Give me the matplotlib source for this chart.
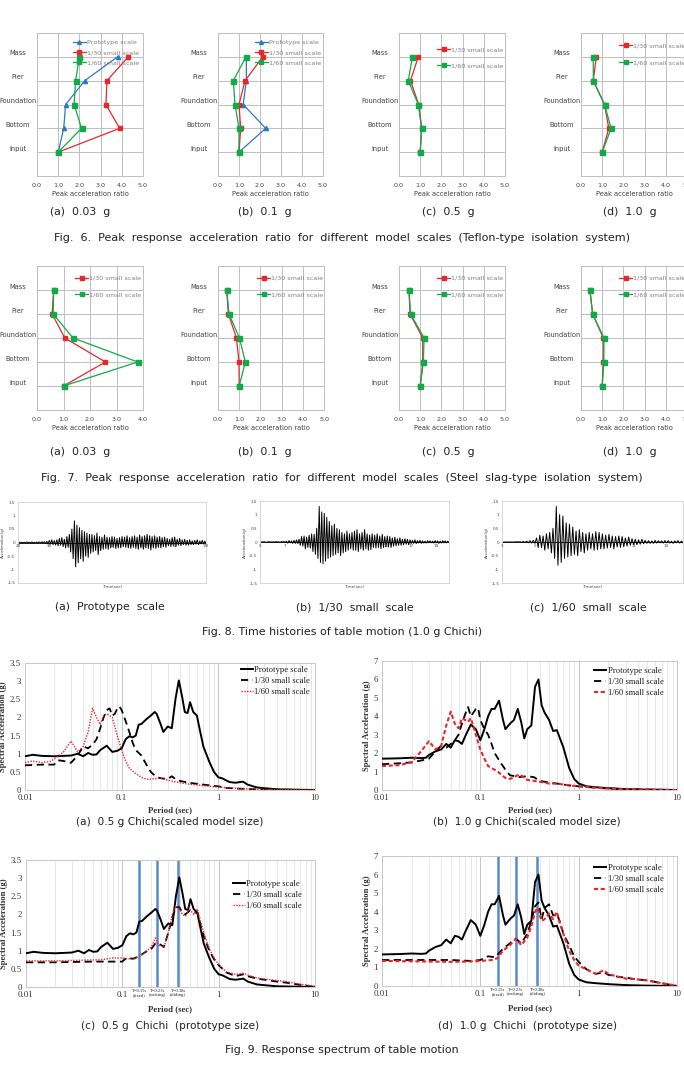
import numpy as np
import matplotlib
matplotlib.use('Agg')
import matplotlib.pyplot as plt
from matplotlib.ticker import LogLocator, NullFormatter
from matplotlib.transforms import blended_transform_factory

# ---------------- data ----------------
levels = ['Input', 'Bottom', 'Foundation', 'Pier', 'Mass']

# Fig. 6 (Teflon-type) peak acceleration ratios, ordered Input..Mass
f6a_proto = [1.0, 1.26, 1.35, 2.25, 3.8]
f6a_s30 = [1.0, 3.9, 3.25, 3.3, 4.3]
f6a_s60 = [1.0, 2.1, 1.75, 1.82, 2.0]
f6b_proto = [1.0, 2.27, 1.2, 1.35, 1.35]
f6b_s30 = [1.0, 1.08, 1.0, 1.29, 2.13]
f6b_s60 = [1.0, 1.0, 0.81, 0.73, 1.33]
f6c_s30 = [1.0, 1.07, 0.93, 0.54, 0.91]
f6c_s60 = [1.0, 1.07, 0.91, 0.44, 0.63]
f6d_s30 = [1.0, 1.31, 1.11, 0.58, 0.72]
f6d_s60 = [1.0, 1.42, 1.11, 0.58, 0.58]

# Fig. 7 (Steel slag-type)
f7a_s30 = [1.0, 2.58, 1.05, 0.57, 0.63]
f7a_s60 = [1.0, 3.8, 1.36, 0.61, 0.63]
f7b_s30 = [1.0, 0.99, 0.87, 0.49, 0.41]
f7b_s60 = [1.0, 1.29, 1.01, 0.52, 0.41]
f7c_s30 = [1.0, 1.12, 1.12, 0.52, 0.47]
f7c_s60 = [1.0, 1.15, 1.18, 0.55, 0.47]
f7d_s30 = [1.0, 1.05, 1.05, 0.55, 0.42]
f7d_s60 = [1.0, 1.08, 1.08, 0.55, 0.42]

# Fig. 8 time histories (acceleration, g)
th_a_range = (20.4, 80.0)
th_a = [0.01, -0.01, 0.01, -0.01, 0.01, -0.01, 0.02, -0.01, 0.01, -0.02,
        0.02, -0.02, 0.01, -0.02, 0.02, -0.01, 0.02, -0.02, 0.03, -0.02,
        0.03, -0.03, 0.04, -0.05, 0.08, -0.06, 0.1, -0.08, 0.07, -0.09,
        0.1, -0.12, 0.15, -0.1, 0.18, -0.15, 0.12, -0.2, 0.22, -0.18,
        0.3, -0.35, 0.5, -0.6, 0.8, -0.9, 0.65, -0.75, 0.55, -0.6,
        0.45, -0.7, 0.4, -0.5, 0.35, -0.55, 0.3, -0.4, 0.3, -0.35,
        0.25, -0.3, 0.35, -0.45, 0.22, -0.3, 0.2, -0.25, 0.28, -0.22,
        0.2, -0.25, 0.18, -0.2, 0.22, -0.18, 0.2, -0.22, 0.15, -0.2,
        0.18, -0.2, 0.22, -0.15, 0.2, -0.18, 0.25, -0.2, 0.18, -0.22,
        0.22, -0.18, 0.25, -0.22, 0.2, -0.25, 0.28, -0.2, 0.22, -0.25,
        0.25, -0.2, 0.3, -0.22, 0.25, -0.28, 0.22, -0.2, 0.25, -0.22,
        0.2, -0.18, 0.22, -0.2, 0.18, -0.15, 0.2, -0.18, 0.15, -0.12,
        0.12, -0.15, 0.18, -0.12, 0.2, -0.15, 0.12, -0.1, 0.15, -0.12,
        0.1, -0.08, 0.12, -0.1, 0.08, -0.1, 0.1, -0.08, 0.06, -0.08,
        0.08, -0.06, 0.1, -0.08, 0.06, -0.05, 0.08, -0.06, 0.05, -0.04]
th_b_range = (5.1, 20.0)
th_b = [0, 0, 0.01, 0, -0.01, 0, 0.01, 0, 0, 0,
        0.01, -0.01, 0.02, -0.01, 0.01, -0.02, 0.02, -0.01, 0.02, -0.02,
        0.03, -0.04, 0.05, -0.03, 0.04, -0.05, 0.06, -0.05, 0.08, -0.06,
        0.1, -0.12, 0.2, -0.15, 0.22, -0.25, 0.18, -0.2, 0.25, -0.22,
        0.3, -0.35, 0.28, -0.45, 0.5, -0.6, 1.3, -0.75, 1.1, -0.8,
        1.05, -0.7, 0.9, -0.6, 0.75, -0.55, 0.6, -0.5, 0.65, -0.45,
        0.5, -0.4, 0.45, -0.5, 0.35, -0.4, 0.3, -0.35, 0.4, -0.3,
        0.3, -0.25, 0.35, -0.3, 0.4, -0.3, 0.45, -0.35, 0.3, -0.25,
        0.35, -0.3, 0.45, -0.25, 0.3, -0.3, 0.25, -0.28, 0.3, -0.2,
        0.25, -0.22, 0.3, -0.2, 0.22, -0.25, 0.28, -0.2, 0.2, -0.18,
        0.22, -0.18, 0.2, -0.2, 0.15, -0.15, 0.18, -0.14, 0.12, -0.12,
        0.15, -0.12, 0.1, -0.1, 0.12, -0.08, 0.1, -0.1, 0.08, -0.06,
        0.06, -0.05, 0.08, -0.06, 0.05, -0.04, 0.06, -0.05, 0.04, -0.04,
        0.03, -0.04, 0.05, -0.03, 0.04, -0.03, 0.03, -0.04, 0.05, -0.03,
        0.04, -0.05, 0.03, -0.04, 0.05, -0.03, 0.04, -0.03, 0.03, -0.02]
th_c_range = (3.1, 14.0)
th_c = [0, 0, 0, 0, 0, 0, 0, 0, 0.01, 0,
        0.01, -0.01, 0.02, -0.02, 0.03, -0.03, 0.05, -0.04, 0.06, -0.05,
        0.15, -0.2, 0.25, -0.2, 0.22, -0.3, 0.3, -0.25, 0.35, -0.4,
        0.5, -0.6, 1.3, -0.85, 1.0, -0.75, 0.95, -0.6, 0.7, -0.55,
        0.65, -0.5, 0.55, -0.45, 0.4, -0.5, 0.45, -0.35, 0.35, -0.4,
        0.3, -0.3, 0.35, -0.25, 0.3, -0.3, 0.38, -0.28, 0.35, -0.25,
        0.3, -0.25, 0.25, -0.22, 0.28, -0.2, 0.22, -0.25, 0.2, -0.18,
        0.22, -0.2, 0.2, -0.18, 0.15, -0.15, 0.18, -0.12, 0.12, -0.1,
        0.1, -0.1, 0.08, -0.08, 0.1, -0.06, 0.06, -0.05, 0.05, -0.05,
        0.04, -0.05, 0.06, -0.04, 0.05, -0.03, 0.04, -0.04, 0.05, -0.03,
        0.05, -0.04, 0.03, -0.05, 0.04, -0.03, 0.05, -0.04, 0.03, -0.03]

# Fig. 9 response spectra (period s, spectral acceleration g)
proto05_T = [0.01, 0.012, 0.015, 0.02, 0.025, 0.03, 0.035, 0.04, 0.045, 0.05, 0.055, 0.06, 0.07, 0.08,
             0.09, 0.1, 0.11, 0.12, 0.13, 0.14, 0.15, 0.16, 0.18, 0.2, 0.22, 0.23, 0.25, 0.27, 0.3,
             0.33, 0.36, 0.39, 0.42, 0.45, 0.48, 0.51, 0.55, 0.6, 0.65, 0.7, 0.8, 0.9, 1.0, 1.1, 1.3,
             1.5, 1.8, 2.0, 2.5, 3.0, 4.0, 6.0, 10.0]
proto05_S = [0.93, 0.97, 0.94, 0.93, 0.94, 0.95, 1.0, 0.93, 1.02, 0.97, 0.98, 1.1, 1.22, 1.05,
             1.08, 1.15, 1.4, 1.48, 1.45, 1.5, 1.8, 1.82, 1.95, 2.05, 2.15, 2.1, 1.85, 1.6, 1.75,
             1.7, 2.5, 3.02, 2.6, 2.15, 2.12, 2.42, 2.15, 2.05, 1.6, 1.2, 0.8, 0.5, 0.35, 0.32, 0.22,
             0.2, 0.23, 0.15, 0.07, 0.05, 0.02, 0.01, 0.0]
proto10_T = [0.01, 0.015, 0.02, 0.025, 0.028, 0.03, 0.035, 0.04, 0.045, 0.05, 0.055, 0.06, 0.065, 0.07,
             0.08, 0.09, 0.1, 0.11, 0.12, 0.13, 0.14, 0.155, 0.17, 0.18, 0.2, 0.22, 0.24, 0.26, 0.28,
             0.3, 0.33, 0.36, 0.39, 0.42, 0.45, 0.5, 0.55, 0.6, 0.7, 0.8, 0.9, 1.0, 1.2, 1.5, 2.0,
             3.0, 5.0, 10.0]
proto10_S = [1.7, 1.72, 1.75, 1.73, 1.75, 1.9, 2.1, 2.2, 2.5, 2.3, 2.7, 2.65, 2.5, 2.9,
             3.55, 3.3, 2.7, 3.3, 4.0, 4.4, 4.4, 4.85, 3.8, 3.3, 3.6, 3.8, 4.4, 3.7, 2.8,
             3.3, 3.5, 5.6, 6.0, 4.6, 4.2, 3.8, 3.2, 3.25, 2.3, 1.2, 0.6, 0.35, 0.2, 0.15, 0.1,
             0.05, 0.02, 0.0]
sm30_05_T = [0.01, 0.015, 0.02, 0.022, 0.025, 0.03, 0.035, 0.04, 0.045, 0.05, 0.055, 0.06, 0.065, 0.07,
             0.075, 0.08, 0.085, 0.09, 0.095, 0.1, 0.11, 0.12, 0.13, 0.14, 0.16, 0.18, 0.2, 0.23, 0.26,
             0.3, 0.33, 0.36, 0.4, 0.5, 0.6, 0.8, 1.0, 1.2, 1.5, 2.0, 3.0, 10.0]
sm30_05_S = [0.68, 0.7, 0.7, 0.82, 0.8, 0.75, 0.95, 1.2, 1.15, 1.25, 1.4, 1.7, 2.0, 2.2,
             2.25, 2.05, 2.1, 2.25, 2.3, 2.2, 1.9, 1.6, 1.3, 1.1, 0.95, 0.7, 0.5, 0.35, 0.32,
             0.3, 0.38, 0.3, 0.25, 0.2, 0.17, 0.13, 0.1, 0.06, 0.04, 0.03, 0.01, 0.0]
sm60_05_T = [0.01, 0.012, 0.015, 0.018, 0.02, 0.025, 0.03, 0.035, 0.04, 0.045, 0.05, 0.055, 0.06, 0.065,
             0.07, 0.075, 0.08, 0.09, 0.1, 0.11, 0.12, 0.14, 0.16, 0.18, 0.2, 0.25, 0.3, 0.4, 0.5,
             0.7, 1.0, 1.5, 2.0, 3.0, 10.0]
sm60_05_S = [0.75, 0.8, 0.76, 0.78, 0.85, 1.05, 1.35, 1.05, 1.2, 1.6, 2.25, 2.0, 1.8, 2.05,
             2.1, 2.05, 2.0, 1.5, 1.1, 0.8, 0.6, 0.45, 0.35, 0.3, 0.3, 0.33, 0.27, 0.2, 0.16,
             0.12, 0.08, 0.05, 0.03, 0.01, 0.0]
sm30_10_T = [0.01, 0.015, 0.02, 0.025, 0.03, 0.035, 0.04, 0.045, 0.05, 0.055, 0.06, 0.065, 0.07, 0.075,
             0.08, 0.085, 0.09, 0.095, 0.1, 0.11, 0.12, 0.13, 0.14, 0.16, 0.18, 0.2, 0.25, 0.3, 0.35,
             0.4, 0.5, 0.6, 0.8, 1.0, 1.5, 2.0, 3.0, 10.0]
sm30_10_S = [1.4, 1.45, 1.5, 1.6, 1.7, 2.1, 2.4, 2.3, 2.5, 2.7, 3.0, 3.6, 4.1, 4.5,
             4.0, 4.2, 4.4, 4.45, 3.8, 3.3, 3.0, 2.5, 2.0, 1.5, 1.1, 0.8, 0.7, 0.75, 0.7,
             0.5, 0.4, 0.35, 0.25, 0.2, 0.12, 0.08, 0.04, 0.0]
sm60_10_T = [0.01, 0.015, 0.02, 0.025, 0.03, 0.035, 0.04, 0.045, 0.05, 0.055, 0.06, 0.065, 0.07, 0.075,
             0.08, 0.09, 0.1, 0.11, 0.12, 0.15, 0.18, 0.2, 0.23, 0.25, 0.3, 0.4, 0.5, 0.6, 0.8,
             1.0, 1.5, 2.0, 3.0, 10.0]
sm60_10_S = [1.3, 1.35, 1.5, 2.1, 2.65, 2.2, 2.4, 3.5, 4.25, 3.6, 3.35, 3.9, 3.8, 3.7,
             3.9, 3.0, 2.2, 1.7, 1.3, 1.0, 0.65, 0.6, 0.75, 0.85, 0.55, 0.45, 0.35, 0.35, 0.25,
             0.2, 0.12, 0.08, 0.04, 0.0]
p30_05_T = [0.01, 0.02, 0.05, 0.08, 0.1, 0.11, 0.13, 0.15, 0.17, 0.2, 0.22, 0.24, 0.27, 0.3, 0.33,
            0.36, 0.39, 0.42, 0.45, 0.5, 0.55, 0.6, 0.65, 0.7, 0.8, 0.9, 1.0, 1.2, 1.5, 1.8, 2.0,
            2.5, 3.0, 4.0, 5.0, 7.0, 10.0]
p30_05_S = [0.68, 0.68, 0.7, 0.7, 0.7, 0.8, 0.78, 0.85, 0.95, 1.05, 1.2, 1.2, 1.1, 1.5, 1.9,
            2.2, 2.2, 2.05, 2.0, 2.1, 2.05, 2.05, 1.7, 1.4, 1.0, 0.75, 0.6, 0.4, 0.3, 0.35, 0.3,
            0.23, 0.2, 0.15, 0.12, 0.06, 0.0]
p60_05_T = [0.01, 0.02, 0.04, 0.06, 0.08, 0.1, 0.13, 0.15, 0.17, 0.2, 0.22, 0.24, 0.27, 0.3, 0.33,
            0.36, 0.39, 0.42, 0.45, 0.5, 0.55, 0.6, 0.65, 0.7, 0.8, 0.9, 1.0, 1.2, 1.5, 1.8, 2.0,
            2.5, 3.0, 4.0, 5.0, 7.0, 10.0]
p60_05_S = [0.72, 0.72, 0.74, 0.75, 0.8, 0.8, 0.76, 0.85, 0.95, 1.1, 1.35, 1.15, 1.1, 1.5, 2.0,
            2.25, 2.15, 2.0, 1.95, 2.15, 2.0, 2.15, 1.8, 1.5, 1.05, 0.8, 0.62, 0.42, 0.35, 0.38, 0.33,
            0.25, 0.22, 0.18, 0.15, 0.08, 0.02]
p30_10_T = [0.01, 0.02, 0.05, 0.08, 0.1, 0.12, 0.14, 0.15, 0.17, 0.2, 0.23, 0.26, 0.3, 0.33, 0.36,
            0.39, 0.42, 0.45, 0.5, 0.55, 0.6, 0.65, 0.7, 0.8, 0.9, 1.0, 1.2, 1.5, 1.8, 2.0, 2.5,
            3.0, 4.0, 5.0, 7.0, 10.0]
p30_10_S = [1.4, 1.4, 1.4, 1.35, 1.4, 1.6, 1.55, 1.7, 2.0, 2.3, 2.55, 2.3, 2.8, 3.5, 4.3,
            4.5, 3.6, 4.2, 4.4, 3.8, 3.9, 3.4, 2.8, 2.2, 1.6, 1.3, 0.9, 0.65, 0.75, 0.6, 0.5,
            0.45, 0.35, 0.3, 0.15, 0.0]
p60_10_T = [0.01, 0.02, 0.05, 0.08, 0.1, 0.13, 0.15, 0.17, 0.2, 0.23, 0.26, 0.3, 0.33, 0.36, 0.38,
            0.42, 0.45, 0.5, 0.55, 0.6, 0.65, 0.7, 0.8, 0.9, 1.0, 1.3, 1.5, 1.8, 2.0, 2.5, 3.0,
            4.0, 5.0, 7.0, 10.0]
p60_10_S = [1.35, 1.33, 1.3, 1.32, 1.35, 1.4, 1.5, 1.9, 2.2, 2.55, 2.2, 2.6, 3.2, 4.0, 4.2,
            3.5, 3.6, 3.9, 3.6, 4.0, 3.3, 2.8, 1.9, 1.4, 1.1, 0.8, 0.65, 0.85, 0.65, 0.5, 0.4,
            0.35, 0.3, 0.15, 0.02]
T_marks = [0.15, 0.23, 0.38]
T_mark_labels = ['T=0.15s\n(fixed)', 'T=0.23s\n(rocking)', 'T=0.38s\n(sliding)']

# ---------------- figure ----------------
W, H = 684, 1088
fig = plt.figure(figsize=(W / 100, H / 100), dpi=100)
fig.patch.set_facecolor('white')

GRID = '#bfbfbf'
TXT = '#404040'
C_BLUE = '#2e78c2'
C_RED = '#e8262b'
C_GREEN = '#13a84a'
SERIF = 'Liberation Serif'
CAP = 'DejaVu Sans'


def rect(l, r, t, b):
    return [l / W, 1 - b / H, (r - l) / W, (b - t) / H]


def ftext(x, y, s, **kw):
    fig.text(x / W, 1 - y / H, s, **kw)


def ratio_panel(r, series, xmax, leg_anchor, leg_spacing):
    ax = fig.add_axes(r)
    ypos = np.arange(1, len(levels) + 1)
    for vals, lab, col, mk, ms in series:
        ax.plot(vals, ypos, color=col, marker=mk, ms=ms, lw=0.9, label=lab)
    ax.set_xlim(0, xmax)
    ax.set_ylim(0, len(levels) + 1)
    xt = np.arange(0, xmax + 0.01, 1.0)
    ax.set_xticks(xt)
    ax.set_xticklabels([f'{v:.1f}' for v in xt])
    ax.set_yticks(ypos)
    ax.set_yticklabels([])
    ax.grid(True, color=GRID, lw=0.7)
    ax.set_axisbelow(True)
    ax.tick_params(length=0, labelsize=4.6, labelcolor=TXT, pad=5)
    for s in ax.spines.values():
        s.set_color(GRID)
        s.set_linewidth(0.7)
    ax.set_xlabel('Peak acceleration ratio', fontsize=4.8, color=TXT, labelpad=2)
    tr = blended_transform_factory(ax.transAxes, ax.transData)
    for y, name in zip(ypos, levels):
        ax.text(-19 / (r[2] * W), y + 0.14, name, transform=tr, ha='center', va='center',
                fontsize=4.8, color=TXT)
    ax.legend(loc='upper left', bbox_to_anchor=leg_anchor, frameon=False, fontsize=4.6,
              labelcolor='#808080', handlelength=2.0, handletextpad=0.2,
              labelspacing=leg_spacing, borderaxespad=0, borderpad=0, markerscale=0.9)
    return ax


def th_panel(r, trange, vals, xlim, xticks):
    ax = fig.add_axes(r)
    t = np.linspace(trange[0], trange[1], len(vals))
    ax.plot(t, vals, color='black', lw=0.7)
    ax.axhline(0, color='black', lw=0.6)
    ax.set_xlim(*xlim)
    ax.set_ylim(-1.5, 1.5)
    yt = [-1.5, -1, -0.5, 0, 0.5, 1, 1.5]
    ax.set_yticks(yt)
    ax.set_yticklabels(['%g' % v for v in yt])
    ax.set_xticks([])
    ax.tick_params(length=0, labelsize=3.0, labelcolor=TXT, pad=2)
    for xv in xticks:
        ax.text(xv, -0.06, str(xv), ha='center', va='top', fontsize=3.0, color=TXT)
    for s in ax.spines.values():
        s.set_color('#d0d0d0')
        s.set_linewidth(0.6)
    ax.set_ylabel('Acceleration(g)', fontsize=3.0, color=TXT, labelpad=1.5)
    ax.set_xlabel('Time(sec)', fontsize=3.0, color=TXT, labelpad=1.5)
    return ax


def spec_panel(r, ymax, ystep, series, leg_anchor, leg_spacing, marks=False):
    ax = fig.add_axes(r)
    if marks:
        for tm, tl in zip(T_marks, T_mark_labels):
            ax.axvline(tm, color='#5b8ac6', lw=1.8, zorder=1)
            ax.text(tm, -0.012 * ymax, tl, ha='center', va='top', fontsize=3.3,
                    family=SERIF, color='#202020', linespacing=1.05)
    for T, S, lab, col, ls, lw in series:
        ax.plot(T, S, color=col, ls=ls, lw=lw, label=lab, zorder=3)
    ax.set_xscale('log')
    ax.set_xlim(0.01, 10)
    ax.set_ylim(0, ymax)
    ax.set_xticks([0.01, 0.1, 1, 10])
    ax.set_xticklabels(['0.01', '0.1', '1', '10'])
    ax.xaxis.set_minor_locator(LogLocator(base=10, subs=np.arange(2, 10)))
    ax.xaxis.set_minor_formatter(NullFormatter())
    yt = np.arange(0, ymax + 0.001, ystep)
    ax.set_yticks(yt)
    ax.set_yticklabels(['%g' % v for v in yt])
    ax.grid(which='major', axis='x', color='#c4c4c4', lw=0.7, zorder=0)
    ax.grid(which='minor', axis='x', color='#e2e2e2', lw=0.6, zorder=0)
    ax.set_axisbelow(True)
    ax.tick_params(which='both', length=0, labelsize=6.3, pad=3, labelcolor='#303030')
    for lbl in ax.get_xticklabels() + ax.get_yticklabels():
        lbl.set_family(SERIF)
    for s in ax.spines.values():
        s.set_color('#c8c8c8')
        s.set_linewidth(0.7)
    ax.set_xlabel('Period (sec)', fontsize=6.3, family=SERIF, fontweight='bold',
                  color='#303030', labelpad=3 if not marks else 4)
    ax.set_ylabel('Spectral Acceleration (g)', fontsize=6.2, family=SERIF, fontweight='bold',
                  color='#303030', labelpad=2)
    leg = ax.legend(loc='upper left', bbox_to_anchor=leg_anchor, frameon=False,
                    prop={'family': SERIF, 'size': 6.2}, handlelength=1.4, handletextpad=0.15,
                    labelspacing=leg_spacing, borderaxespad=0, borderpad=0)
    for t in leg.get_texts():
        t.set_color('#202020')
    return ax


# ----- Fig. 6 -----
top6, bot6 = 33, 176
lab_p, lab_30, lab_60 = 'Prototype scale', '1/30 small scale', '1/60 small scale'
ratio_panel(rect(37, 143, top6, bot6),
            [(f6a_proto, lab_p, C_BLUE, '^', 3.0), (f6a_s30, lab_30, C_RED, 's', 3.2),
             (f6a_s60, lab_60, C_GREEN, 's', 3.6)], 5, (0.34, 0.955), 0.75)
ratio_panel(rect(218, 323, top6, bot6),
            [(f6b_proto, lab_p, C_BLUE, '^', 3.0), (f6b_s30, lab_30, C_RED, 's', 3.2),
             (f6b_s60, lab_60, C_GREEN, 's', 3.6)], 5, (0.35, 0.955), 0.75)
ratio_panel(rect(399, 505, top6, bot6),
            [(f6c_s30, lab_30, C_RED, 's', 3.2), (f6c_s60, lab_60, C_GREEN, 's', 3.6)],
            5, (0.36, 0.905), 1.75)
ratio_panel(rect(581, 687, top6, bot6),
            [(f6d_s30, lab_30, C_RED, 's', 3.2), (f6d_s60, lab_60, C_GREEN, 's', 3.6)],
            5, (0.36, 0.93), 1.75)
for x, s in [(80, '(a)  0.03  g'), (265, '(b)  0.1  g'), (448, '(c)  0.5  g'), (630, '(d)  1.0  g')]:
    ftext(x, 212, s, ha='center', va='center', fontsize=7.8, family=CAP, color='#202020')
ftext(342, 238, 'Fig.  6.  Peak  response  acceleration  ratio  for  different  model  scales  (Teflon-type  isolation  system)',
      ha='center', va='center', fontsize=8.0, family=CAP, color='#202020')

# ----- Fig. 7 -----
top7, bot7 = 266, 410
ratio_panel(rect(37, 143, top7, bot7),
            [(f7a_s30, lab_30, C_RED, 's', 3.2), (f7a_s60, lab_60, C_GREEN, 's', 3.6)],
            4, (0.36, 0.935), 1.75)
ratio_panel(rect(218, 324, top7, bot7),
            [(f7b_s30, lab_30, C_RED, 's', 3.2), (f7b_s60, lab_60, C_GREEN, 's', 3.6)],
            5, (0.37, 0.935), 1.75)
ratio_panel(rect(399, 505, top7, bot7),
            [(f7c_s30, lab_30, C_RED, 's', 3.2), (f7c_s60, lab_60, C_GREEN, 's', 3.6)],
            5, (0.36, 0.935), 1.75)
ratio_panel(rect(581, 687, top7, bot7),
            [(f7d_s30, lab_30, C_RED, 's', 3.2), (f7d_s60, lab_60, C_GREEN, 's', 3.6)],
            5, (0.36, 0.935), 1.75)
for x, s in [(80, '(a)  0.03  g'), (265, '(b)  0.1  g'), (448, '(c)  0.5  g'), (630, '(d)  1.0  g')]:
    ftext(x, 452, s, ha='center', va='center', fontsize=7.8, family=CAP, color='#202020')
ftext(342, 478, 'Fig.  7.  Peak  response  acceleration  ratio  for  different  model  scales  (Steel  slag-type  isolation  system)',
      ha='center', va='center', fontsize=8.0, family=CAP, color='#202020')

# ----- Fig. 8 -----
th_panel(rect(18, 206, 502, 583), th_a_range, th_a, (20, 80), [20, 30, 40, 50, 60, 70, 80])
th_panel(rect(260, 449, 501, 583), th_b_range, th_b, (5, 20), [5, 7, 9, 11, 13, 15, 17, 19])
th_panel(rect(502, 683, 501, 583), th_c_range, th_c, (3, 14), [3, 5, 7, 9, 11, 13])
for x, s in [(110, '(a)  Prototype  scale'), (355, '(b)  1/30  small  scale'), (588, '(c)  1/60  small  scale')]:
    ftext(x, 607, s, ha='center', va='center', fontsize=7.8, family=CAP, color='#202020')
ftext(342, 632, 'Fig. 8. Time histories of table motion (1.0 g Chichi)',
      ha='center', va='center', fontsize=7.9, family=CAP, color='#202020')

# ----- Fig. 9 -----
K = 'black'
spec_panel(rect(25, 315, 663, 790), 3.5, 0.5,
           [(proto05_T, proto05_S, 'Prototype scale', K, '-', 1.4),
            (sm30_05_T, sm30_05_S, '1/30 small scale', K, (0, (4, 2.5)), 1.3),
            (sm60_05_T, sm60_05_S, '1/60 small scale', C_RED, (0, (1, 1)), 1.0)],
           (0.745, 0.975), 0.35)
spec_panel(rect(382, 677, 661, 790), 7, 1,
           [(proto10_T, proto10_S, 'Prototype scale', K, '-', 1.4),
            (sm30_10_T, sm30_10_S, '1/30 small scale', K, (0, (4, 2.5)), 1.3),
            (sm60_10_T, sm60_10_S, '1/60 small scale', C_RED, (0, (2, 1.2)), 1.5)],
           (0.72, 0.955), 0.35)
spec_panel(rect(26, 315, 860, 987), 3.5, 0.5,
           [(proto05_T, proto05_S, 'Prototype scale', K, '-', 1.4),
            (p30_05_T, p30_05_S, '1/30 small scale', K, (0, (4, 2.5)), 1.3),
            (p60_05_T, p60_05_S, '1/60 small scale', C_RED, (0, (1, 1)), 1.0)],
           (0.715, 0.845), 0.35, marks=True)
spec_panel(rect(382, 677, 856, 986), 7, 1,
           [(proto10_T, proto10_S, 'Prototype scale', K, '-', 1.4),
            (p30_10_T, p30_10_S, '1/30 small scale', K, (0, (4, 2.5)), 1.3),
            (p60_10_T, p60_10_S, '1/60 small scale', C_RED, (0, (2, 1.2)), 1.5)],
           (0.72, 0.935), 0.3, marks=True)
for x, y, s in [(170, 822, '(a)  0.5 g Chichi(scaled model size)'),
                (527, 822, '(b)  1.0 g Chichi(scaled model size)'),
                (170, 1026, '(c)  0.5 g  Chichi  (prototype size)'),
                (527, 1026, '(d)  1.0 g  Chichi  (prototype size)')]:
    ftext(x, y, s, ha='center', va='center', fontsize=7.6, family=CAP, color='#202020')
ftext(342, 1050, 'Fig. 9. Response spectrum of table motion',
      ha='center', va='center', fontsize=7.9, family=CAP, color='#202020')

fig.savefig('out.png', dpi=100, facecolor='white')
